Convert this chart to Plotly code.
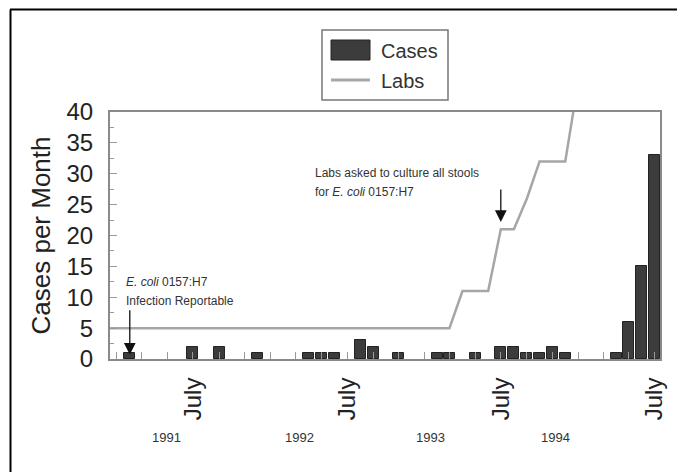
import plotly.graph_objects as go
import pandas as pd

FONT = "Liberation Sans, Arial, Helvetica, sans-serif"

# ---- data ----
case_months = ["1991-02", "1991-07", "1991-09", "1991-12",
               "1992-04", "1992-05", "1992-06", "1992-08", "1992-09", "1992-11",
               "1993-02", "1993-03", "1993-05", "1993-07", "1993-08", "1993-09",
               "1993-10", "1993-11", "1993-12",
               "1994-04", "1994-05", "1994-06", "1994-07"]
case_values = [1, 2, 2, 1,
               1, 1, 1, 3, 2, 1,
               1, 1, 1, 2, 2, 1,
               1, 2, 1,
               1, 6, 15, 33]

lab_months = [d.strftime("%Y-%m") for d in pd.date_range("1990-12-01", "1994-01-01", freq="MS")]
lab_values = [5,
              5, 5, 5, 5, 5, 5, 5, 5, 5, 5, 5, 5,
              5, 5, 5, 5, 5, 5, 5, 5, 5, 5, 5, 5,
              5, 5, 5, 11, 11, 11, 21, 21, 26, 32, 32, 32,
              45]

july_ticks = ["1991-07-01", "1992-07-01", "1993-07-01", "1994-07-01"]
july_labels = ["July", "July", "July", "July"]
year_labels = ["1991", "1992", "1993", "1994"]

def d(m):
    return m + "-01"

fig = go.Figure()
fig.add_trace(go.Bar(
    x=[d(m) for m in case_months], y=case_values, name="Cases",
    width=26 * 86400000,
    marker=dict(color="#3c3c3c", line=dict(color="#222222", width=1)),
    showlegend=False,
))
fig.add_trace(go.Scatter(
    x=[d(m) for m in lab_months], y=lab_values, name="Labs", mode="lines",
    line=dict(color="#a6a6a6", width=2.5),
    showlegend=False,
))

# page has an 8px body margin; coordinates below are screenshot pixels
OFF = 8
W, H = 685 - OFF, 472 - OFF
L, R, T, B = 110, 660, 112, 359   # plot area in screenshot pixels
def px(x):
    return (x - L) / (R - L)
def py(y):
    return (B - y) / (B - T)

annotations = []
annotations.append(dict(xref="paper", yref="paper", x=px(124), y=py(282), xanchor="left", yanchor="middle",
                        text="<i>E. coli</i> 0157:H7", showarrow=False, font=dict(size=12, color="#333", family=FONT)))
annotations.append(dict(xref="paper", yref="paper", x=px(124), y=py(301), xanchor="left", yanchor="middle",
                        text="Infection Reportable", showarrow=False, font=dict(size=12, color="#333", family=FONT)))
annotations.append(dict(xref="x", yref="y", x="1991-02-01", y=0.7, ax=0, ay=-46, text="",
                        showarrow=True, arrowhead=2, arrowsize=1.8, arrowwidth=1.3, arrowcolor="#111"))
annotations.append(dict(xref="paper", yref="paper", x=px(313), y=py(173), xanchor="left", yanchor="middle",
                        text="Labs asked to culture all stools", showarrow=False, font=dict(size=12, color="#333", family=FONT)))
annotations.append(dict(xref="paper", yref="paper", x=px(313), y=py(192), xanchor="left", yanchor="middle",
                        text="for <i>E. coli</i> 0157:H7", showarrow=False, font=dict(size=12, color="#333", family=FONT)))
annotations.append(dict(xref="x", yref="y", x="1993-07-01", y=22.2, ax=0, ay=-34, text="",
                        showarrow=True, arrowhead=2, arrowsize=1.8, arrowwidth=1.3, arrowcolor="#111"))
for lab, xp in zip(year_labels, [166, 299, 430, 555]):
    annotations.append(dict(xref="paper", yref="paper", x=px(xp), y=py(437), xanchor="center", yanchor="middle",
                            text=lab, showarrow=False, font=dict(size=13, color="#333", family=FONT)))
annotations.append(dict(xref="paper", yref="paper", x=px(379), y=py(51), xanchor="left", yanchor="middle",
                        text="Cases", showarrow=False, font=dict(size=20, color="#333", family=FONT)))
annotations.append(dict(xref="paper", yref="paper", x=px(379), y=py(81), xanchor="left", yanchor="middle",
                        text="Labs", showarrow=False, font=dict(size=20, color="#333", family=FONT)))

shapes = [
    dict(type="rect", xref="paper", yref="paper", x0=px(322), x1=px(448), y0=py(30), y1=py(100),
         line=dict(color="#777", width=1.5), fillcolor="white"),
    dict(type="rect", xref="paper", yref="paper", x0=px(331), x1=px(370), y0=py(40), y1=py(60),
         line=dict(color="#222", width=1), fillcolor="#3c3c3c"),
    dict(type="line", xref="paper", yref="paper", x0=px(331), x1=px(370), y0=py(80), y1=py(80),
         line=dict(color="#a6a6a6", width=3)),
    dict(type="line", xref="paper", yref="paper", x0=px(10), x1=px(700), y0=py(9.5), y1=py(9.5),
         line=dict(color="#000", width=2)),
    dict(type="line", xref="paper", yref="paper", x0=px(10.5), x1=px(10.5), y0=py(9.5), y1=py(490),
         line=dict(color="#000", width=2)),
]

fig.update_layout(
    width=W, height=H,
    margin=dict(l=L - OFF, r=W - (R - OFF), t=T - OFF, b=H - (B - OFF), autoexpand=False),
    paper_bgcolor="white", plot_bgcolor="white",
    font=dict(family=FONT, color="#222"),
    bargap=0,
    annotations=annotations,
    shapes=shapes,
    showlegend=False,
)
fig.update_xaxes(
    type="date", range=["1990-12-16", "1994-07-14"],
    tickmode="array", tickvals=july_ticks, ticktext=july_labels, tickangle=-90,
    tickfont=dict(size=24, color="#222", family=FONT),
    ticks="inside", ticklen=7, tickcolor="#999", tickwidth=1,
    minor=dict(tickmode="linear", tick0="1991-01-01", dtick="M2", ticks="inside", ticklen=7, tickcolor="#999"),
    ticklabelstandoff=7,
    showline=True, linecolor="#8a8a8a", linewidth=2, mirror=True,
    showgrid=False, zeroline=False,
)
fig.update_yaxes(
    range=[0, 40], tickmode="linear", tick0=0, dtick=5,
    tickfont=dict(size=24, color="#222", family=FONT),
    ticks="inside", ticklen=7, tickcolor="#999", tickwidth=1,
    minor=dict(dtick=2.5, ticks="inside", ticklen=4, tickcolor="#999"),
    ticklabelstandoff=10,
    title=dict(text="Cases per Month", font=dict(size=26, color="#222", family=FONT), standoff=8),
    showline=True, linecolor="#8a8a8a", linewidth=2, mirror=True,
    showgrid=False, zeroline=False,
)

fig.write_html("out.html")
